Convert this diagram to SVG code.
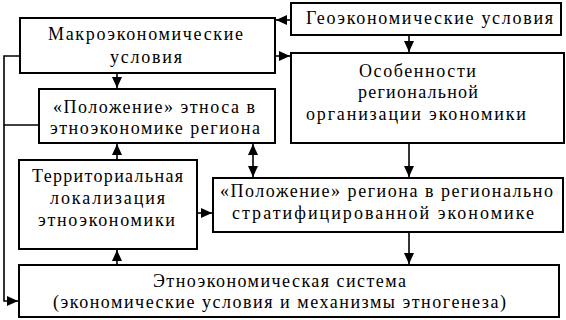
<svg xmlns="http://www.w3.org/2000/svg" width="566" height="320" viewBox="0 0 566 320">
<defs>
<style>
.box{fill:#fff;stroke:#000;stroke-width:2}
.ln{fill:none;stroke:#000;stroke-width:1.6}
</style>
<marker id="ah" viewBox="0 0 11 10" markerWidth="11" markerHeight="10" refX="11" refY="5" orient="auto-start-reverse" markerUnits="userSpaceOnUse">
<path d="M0,0 L11,5 L0,10 z" fill="#000"/>
</marker>
</defs>
<rect width="566" height="320" fill="#fff"/>
<g id="connectors">
<line class="ln" x1="291" y1="20" x2="276" y2="20" marker-end="url(#ah)"/>
<line class="ln" x1="275" y1="56" x2="290" y2="56" marker-end="url(#ah)"/>
<line class="ln" x1="409" y1="35" x2="409" y2="52" marker-end="url(#ah)"/>
<line class="ln" x1="117" y1="73" x2="117" y2="88" marker-end="url(#ah)"/>
<polyline class="ln" points="20,56 4,56 4,301 18,301" marker-end="url(#ah)"/>
<line class="ln" x1="4" y1="125" x2="39" y2="125"/>
<line class="ln" x1="117" y1="160" x2="117" y2="144" marker-end="url(#ah)"/>
<line class="ln" x1="253" y1="144" x2="253" y2="177" marker-start="url(#ah)" marker-end="url(#ah)"/>
<line class="ln" x1="409" y1="143" x2="409" y2="177" marker-end="url(#ah)"/>
<line class="ln" x1="197" y1="213" x2="212" y2="213" marker-end="url(#ah)"/>
<line class="ln" x1="117" y1="265" x2="117" y2="250" marker-end="url(#ah)"/>
<line class="ln" x1="409" y1="232" x2="409" y2="264" marker-end="url(#ah)"/>
</g>
<g font-family="Liberation Serif, serif" font-size="18" fill="#000" lengthAdjust="spacing">
<g id="geo">
<rect class="box" x="291" y="3" width="270" height="32"/>
<text x="306" y="24" textLength="247" lengthAdjust="spacing">Геоэкономические условия</text>
</g>
<g id="macro">
<rect class="box" x="20" y="18" width="255" height="55"/>
<text x="48" y="40" textLength="195" lengthAdjust="spacing">Макроэкономические</text>
<text x="110" y="63" textLength="72" lengthAdjust="spacing">условия</text>
</g>
<g id="osob">
<rect class="box" x="291" y="53" width="273" height="90"/>
<text x="359" y="77" textLength="117" lengthAdjust="spacing">Особенности</text>
<text x="358" y="98" textLength="120" lengthAdjust="spacing">региональной</text>
<text x="306" y="120" textLength="220" lengthAdjust="spacing">организации экономики</text>
</g>
<g id="ethnos">
<rect class="box" x="39" y="89" width="236" height="54"/>
<text x="53" y="113" textLength="202" lengthAdjust="spacing">«Положение» этноса в</text>
<text x="50" y="134" textLength="210" lengthAdjust="spacing">этноэкономике региона</text>
</g>
<g id="terr">
<rect class="box" x="19" y="160" width="178" height="89"/>
<text x="32" y="182" textLength="151" lengthAdjust="spacing">Территориальная</text>
<text x="50" y="204" textLength="115" lengthAdjust="spacing">локализация</text>
<text x="38" y="226" textLength="137" lengthAdjust="spacing">этноэкономики</text>
</g>
<g id="region">
<rect class="box" x="213" y="178" width="350" height="54"/>
<text x="220" y="197" textLength="333" lengthAdjust="spacing">«Положение» региона в регионально</text>
<text x="232" y="219" textLength="302" lengthAdjust="spacing">стратифицированной экономике</text>
</g>
<g id="system">
<rect class="box" x="19" y="265" width="540" height="52"/>
<text x="153" y="287" textLength="253" lengthAdjust="spacing">Этноэкономическая система</text>
<text x="53" y="308" textLength="453" lengthAdjust="spacing">(экономические условия и механизмы этногенеза)</text>
</g>
</g>
</svg>
